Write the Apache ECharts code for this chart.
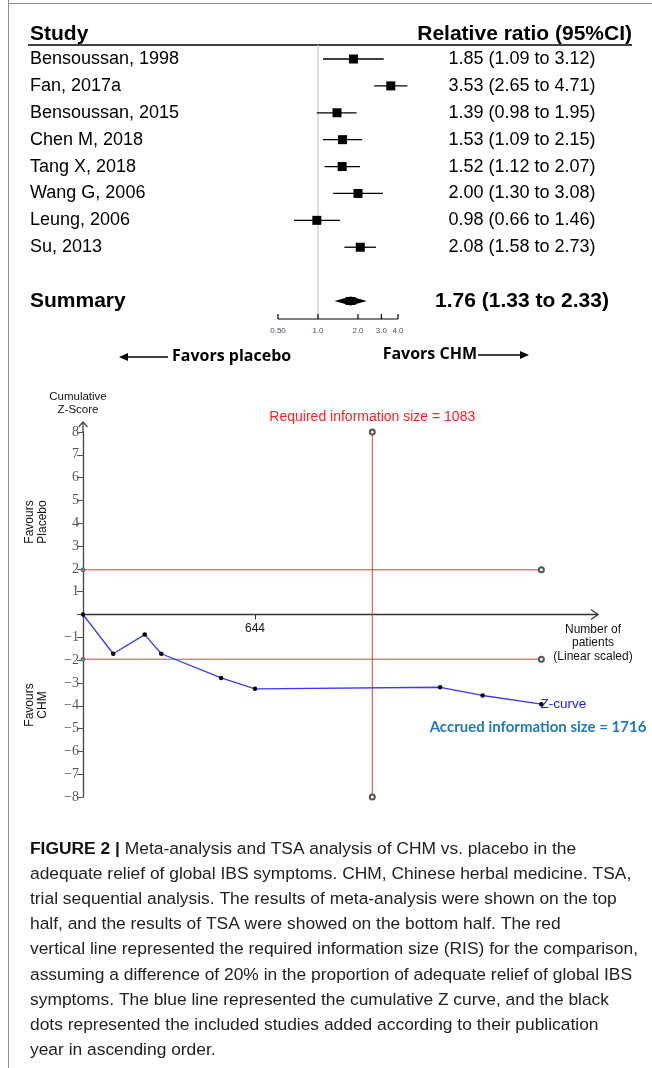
<!DOCTYPE html>
<html><head><meta charset="utf-8">
<script src="https://cdn.jsdelivr.net/npm/echarts@6/dist/echarts.min.js"></script>
<style>html,body{margin:0;padding:0;background:#fff}#c{width:652px;height:1068px}</style>
</head><body><div id="c"></div>
<script>
// ---------- data ----------
const studies = ['Bensoussan, 1998','Fan, 2017a','Bensoussan, 2015','Chen M, 2018','Tang X, 2018','Wang G, 2006','Leung, 2006','Su, 2013'];
const ratio = [1.85, 3.53, 1.39, 1.53, 1.52, 2.00, 0.98, 2.08];
const lower = [1.09, 2.65, 0.98, 1.09, 1.12, 1.30, 0.66, 1.58];
const upper = [3.12, 4.71, 1.95, 2.15, 2.07, 3.08, 1.46, 2.73];
const summaryLabel = 'Summary';
const summary = [1.76, 1.33, 2.33];
const forestTicks = [0.5, 1, 2, 3, 4];
const forestTickLabels = ['0.50', '1.0', '2.0', '3.0', '4.0'];
const patients = [0, 113, 231, 293, 517, 644, 1337, 1496, 1716];
const zScores = [0, -1.72, -0.88, -1.72, -2.78, -3.26, -3.19, -3.55, -3.93];
const ris = 1083;
const boundary = 1.96;
const accrued = 1716;
const xTickValues = [644];
const captionLines = [
  '{b|FIGURE 2 |} Meta-analysis and TSA analysis of CHM vs. placebo in the',
  'adequate relief of global IBS symptoms. CHM, Chinese herbal medicine. TSA,',
  'trial sequential analysis. The results of meta-analysis were shown on the top',
  'half, and the results of TSA were showed on the bottom half. The red',
  'vertical line represented the required information size (RIS) for the comparison,',
  'assuming a difference of 20% in the proportion of adequate relief of global IBS',
  'symptoms. The blue line represented the cumulative Z curve, and the black',
  'dots represented the included studies added according to their publication',
  'year in ascending order.'
];

// ---------- chart ----------
const SANS = 'Liberation Sans, Arial, sans-serif';
const CAL = 'Open Sans, Lato, sans-serif';
const fmtCI = (r, l, h) => r.toFixed(2) + ' (' + l.toFixed(2) + ' to ' + h.toFixed(2) + ')';
const nStudies = studies.length;
const summaryRow = nStudies + 1;

const chart = echarts.init(document.getElementById('c'), null, {renderer: 'canvas'});

const forestData = studies.map((s, i) => [ratio[i], lower[i], upper[i], i]);

const graphic = [
  {type: 'line', shape: {x1: 8.5, y1: 0, x2: 8.5, y2: 1068}, style: {stroke: '#8a8a8a', lineWidth: 1}},
  {type: 'line', shape: {x1: 8, y1: 3.5, x2: 652, y2: 3.5}, style: {stroke: '#8a8a8a', lineWidth: 1}},
  {type: 'text', x: 30, y: 34, style: {text: 'Study', font: 'bold 21px ' + SANS, fill: '#000', align: 'left', verticalAlign: 'middle'}},
  {type: 'text', x: 632, y: 34, style: {text: 'Relative ratio (95%CI)', font: 'bold 21px ' + SANS, fill: '#000', align: 'right', verticalAlign: 'middle'}},
  {type: 'line', shape: {x1: 28, y1: 45, x2: 632, y2: 45}, style: {stroke: '#000', lineWidth: 1.6}},
  // favours arrows
  {type: 'line', shape: {x1: 121, y1: 357, x2: 168, y2: 357}, style: {stroke: '#000', lineWidth: 1.5}},
  {type: 'polygon', shape: {points: [[119, 357], [128, 353], [128, 361]]}, style: {fill: '#000'}},
  {type: 'text', x: 172, y: 356, style: {text: 'Favors placebo', font: 'bold 16px ' + CAL, fill: '#000', align: 'left', verticalAlign: 'middle'}},
  {type: 'text', x: 477, y: 354, style: {text: 'Favors CHM', font: 'bold 16px ' + CAL, fill: '#000', align: 'right', verticalAlign: 'middle'}},
  {type: 'line', shape: {x1: 478, y1: 355, x2: 524, y2: 355}, style: {stroke: '#000', lineWidth: 1.5}},
  {type: 'polygon', shape: {points: [[529, 355], [520, 351], [520, 359]]}, style: {fill: '#000'}},
  // TSA texts
  {type: 'text', x: 78, y: 403, style: {text: 'Cumulative\nZ-Score', font: '11.5px ' + SANS, lineHeight: 13, fill: '#111', align: 'center', verticalAlign: 'middle'}},
  {type: 'text', x: 593, y: 643, style: {text: 'Number of\npatients\n(Linear scaled)', font: '12px ' + SANS, lineHeight: 13.5, fill: '#111', align: 'center', verticalAlign: 'middle'}},
  {type: 'text', x: 36, y: 522, rotation: Math.PI / 2, style: {text: 'Favours\nPlacebo', font: '12px ' + SANS, lineHeight: 13, fill: '#111', align: 'center', verticalAlign: 'middle'}},
  {type: 'text', x: 36, y: 705, rotation: Math.PI / 2, style: {text: 'Favours\nCHM', font: '12px ' + SANS, lineHeight: 13, fill: '#111', align: 'center', verticalAlign: 'middle'}},
  {type: 'text', x: 538, y: 727, style: {text: 'Accrued information size = ' + accrued, font: 'bold 15px Lato, sans-serif', fill: '#1f78c1', align: 'center', verticalAlign: 'middle'}}
];
captionLines.forEach((t, i) => {
  graphic.push({type: 'text', x: 30, y: 849 + i * 25.15, style: {
    text: t, font: '17.4px ' + SANS, fill: '#222', align: 'left', verticalAlign: 'middle',
    rich: {b: {font: 'bold 17.4px ' + SANS, fill: '#111'}}
  }});
});

const zTickFmt = v => v === 0 ? '' : (v < 0 ? '\u2212' + (-v) : String(v));

const option = {
  animation: false,
  backgroundColor: '#fff',
  grid: [
    {left: 278, top: 59, width: 120, height: 242},
    {left: 83, top: 432, width: 515, height: 365}
  ],
  xAxis: [
    {gridIndex: 0, type: 'log', logBase: 10, min: 0.5, max: 4, show: false},
    {gridIndex: 1, type: 'value', min: 0, max: 1928,
      axisLine: {show: true, onZero: true, lineStyle: {color: '#333', width: 1.3}},
      axisTick: {show: true, length: 5, customValues: xTickValues, lineStyle: {color: '#333'}},
      axisLabel: {show: false},
      splitLine: {show: false}}
  ],
  yAxis: [
    {gridIndex: 0, type: 'value', inverse: true, min: 0, max: 9, show: false},
    {gridIndex: 1, type: 'value', min: -8, max: 8, interval: 1,
      axisLine: {show: true, onZero: false, lineStyle: {color: '#444', width: 1.3}},
      axisTick: {show: true, length: 6, lineStyle: {color: '#555', width: 1.1}},
      axisLabel: {show: true, margin: 4, color: '#555', fontSize: 14, fontFamily: 'Liberation Serif, Times New Roman, serif', formatter: zTickFmt},
      splitLine: {show: false}}
  ],
  series: [
    // null line at ratio 1
    {type: 'custom', xAxisIndex: 0, yAxisIndex: 0, silent: true, clip: false, z: 1,
      data: [[1, summaryRow]], encode: {x: 0, y: 1},
      renderItem: (p, api) => {
        const c = api.coord([api.value(0), api.value(1)]);
        return {type: 'line', shape: {x1: c[0], y1: 45, x2: c[0], y2: c[1] + 18}, style: {stroke: '#c8c8c8', lineWidth: 1.2}};
      }},
    // studies
    {type: 'custom', xAxisIndex: 0, yAxisIndex: 0, silent: true, clip: false, z: 3,
      data: forestData, encode: {x: [0, 1, 2], y: 3},
      renderItem: (p, api) => {
        const i = p.dataIndex;
        const row = api.value(3);
        const c = api.coord([api.value(0), row]);
        const l = api.coord([api.value(1), row]);
        const h = api.coord([api.value(2), row]);
        const s = 9;
        return {type: 'group', children: [
          {type: 'line', shape: {x1: l[0], y1: l[1], x2: h[0], y2: h[1]}, style: {stroke: '#000', lineWidth: 1.3}},
          {type: 'rect', shape: {x: c[0] - s / 2, y: c[1] - s / 2, width: s, height: s}, style: {fill: '#000'}},
          {type: 'text', x: 30, y: c[1], style: {text: studies[i], font: '18px ' + SANS, fill: '#000', align: 'left', verticalAlign: 'middle'}},
          {type: 'text', x: 522, y: c[1], style: {text: fmtCI(ratio[i], lower[i], upper[i]), font: '18px ' + SANS, fill: '#000', align: 'center', verticalAlign: 'middle'}}
        ]};
      }},
    // summary
    {type: 'custom', xAxisIndex: 0, yAxisIndex: 0, silent: true, clip: false, z: 3,
      data: [[summary[0], summary[1], summary[2], summaryRow]], encode: {x: [0, 1, 2], y: 3},
      renderItem: (p, api) => {
        const row = api.value(3);
        const c = api.coord([api.value(0), row]);
        const l = api.coord([api.value(1), row]);
        const h = api.coord([api.value(2), row]);
        return {type: 'group', children: [
          {type: 'polygon', shape: {points: [[l[0], c[1]], [c[0], c[1] - 4.5], [h[0], c[1]], [c[0], c[1] + 4.5]]}, style: {fill: '#000'}},
          {type: 'rect', shape: {x: c[0] - 5, y: c[1] - 4, width: 10, height: 8}, style: {fill: '#000'}},
          {type: 'text', x: 30, y: c[1], style: {text: summaryLabel, font: 'bold 21px ' + SANS, fill: '#000', align: 'left', verticalAlign: 'middle'}},
          {type: 'text', x: 522, y: c[1], style: {text: fmtCI(summary[0], summary[1], summary[2]), font: 'bold 21px ' + SANS, fill: '#000', align: 'center', verticalAlign: 'middle'}}
        ]};
      }},
    // forest axis
    {type: 'custom', xAxisIndex: 0, yAxisIndex: 0, silent: true, clip: false, z: 2,
      data: forestTicks.map((v, i) => [v, summaryRow, i]), encode: {x: 0, y: 1},
      renderItem: (p, api) => {
        const i = p.dataIndex;
        const c = api.coord([api.value(0), api.value(1)]);
        const y = c[1] + 18;
        const children = [
          {type: 'line', shape: {x1: c[0], y1: y - 5, x2: c[0], y2: y}, style: {stroke: '#000', lineWidth: 1.2}},
          {type: 'text', x: c[0], y: y + 12, style: {text: forestTickLabels[i], font: '8px ' + SANS, fill: '#4a4a6a', align: 'center', verticalAlign: 'middle'}}
        ];
        if (i === 0) {
          const e = api.coord([forestTicks[forestTicks.length - 1], api.value(1)]);
          children.push({type: 'line', shape: {x1: c[0], y1: y, x2: e[0], y2: y}, style: {stroke: '#000', lineWidth: 1.2}});
        }
        return {type: 'group', children};
      }},
    // TSA: upper boundary
    {type: 'line', xAxisIndex: 1, yAxisIndex: 1, silent: true, z: 2,
      data: [{value: [0, boundary], symbol: 'circle', itemStyle: {color: '#777'}}, [accrued, boundary]],
      lineStyle: {color: '#e8383a', width: 1}, symbol: 'emptyCircle', symbolSize: 5, itemStyle: {color: '#555', borderWidth: 1}},
    // TSA: lower boundary
    {type: 'line', xAxisIndex: 1, yAxisIndex: 1, silent: true, z: 2,
      data: [{value: [0, -boundary], symbol: 'circle', itemStyle: {color: '#777'}}, [accrued, -boundary]],
      lineStyle: {color: '#e8383a', width: 1}, symbol: 'emptyCircle', symbolSize: 5, itemStyle: {color: '#555', borderWidth: 1}},
    // TSA: RIS vertical line
    {type: 'line', xAxisIndex: 1, yAxisIndex: 1, silent: true, z: 2,
      data: [{value: [ris, 8], label: {show: true, position: 'top', distance: 4, formatter: 'Required information size = ' + ris, color: '#ff2020', fontSize: 14, fontFamily: SANS}}, [ris, -8]],
      lineStyle: {color: '#e8383a', width: 1}, symbol: 'emptyCircle', symbolSize: 5, itemStyle: {color: '#555', borderWidth: 1}},
    // TSA: Z-curve
    {type: 'line', xAxisIndex: 1, yAxisIndex: 1, silent: true, z: 4,
      data: patients.map((x, i) => i === patients.length - 1
        ? {value: [x, zScores[i]], label: {show: true, position: 'right', distance: -3, formatter: 'Z-curve', color: '#2020ee', fontSize: 13.5, fontFamily: SANS}}
        : [x, zScores[i]]),
      lineStyle: {color: '#3a3aff', width: 1.3}, symbol: 'circle', symbolSize: 4.5, itemStyle: {color: '#000'}},
    // TSA x-axis tick labels
    {type: 'custom', xAxisIndex: 1, yAxisIndex: 1, silent: true, clip: false, z: 5,
      data: xTickValues.map(v => [v, 0]), encode: {x: 0, y: 1},
      renderItem: (p, api) => {
        const c = api.coord([api.value(0), api.value(1)]);
        return {type: 'text', x: c[0], y: c[1] + 14, style: {text: String(api.value(0)), font: '12px ' + SANS, fill: '#111', align: 'center', verticalAlign: 'middle'}};
      }},
    // TSA axis arrowheads
    {type: 'custom', xAxisIndex: 1, yAxisIndex: 1, silent: true, clip: false, z: 5,
      data: [[0, 8, 0], [1928, 0, 1]], encode: {x: 0, y: 1},
      renderItem: (p, api) => {
        const c = api.coord([api.value(0), api.value(1)]);
        if (api.value(2) === 0) {
          const top = c[1] - 10;
          return {type: 'group', children: [
            {type: 'line', shape: {x1: c[0], y1: c[1], x2: c[0], y2: top}, style: {stroke: '#444', lineWidth: 1.3}},
            {type: 'polyline', shape: {points: [[c[0] - 4.5, top + 5], [c[0], top], [c[0] + 4.5, top + 5]]}, style: {stroke: '#444', lineWidth: 1.2, fill: null}}
          ]};
        }
        return {type: 'polyline', shape: {points: [[c[0] - 7, c[1] - 5], [c[0], c[1]], [c[0] - 7, c[1] + 5]]}, style: {stroke: '#333', lineWidth: 1.2, fill: null}};
      }}
  ],
  graphic: graphic
};
chart.setOption(option);
</script>
</body></html>
